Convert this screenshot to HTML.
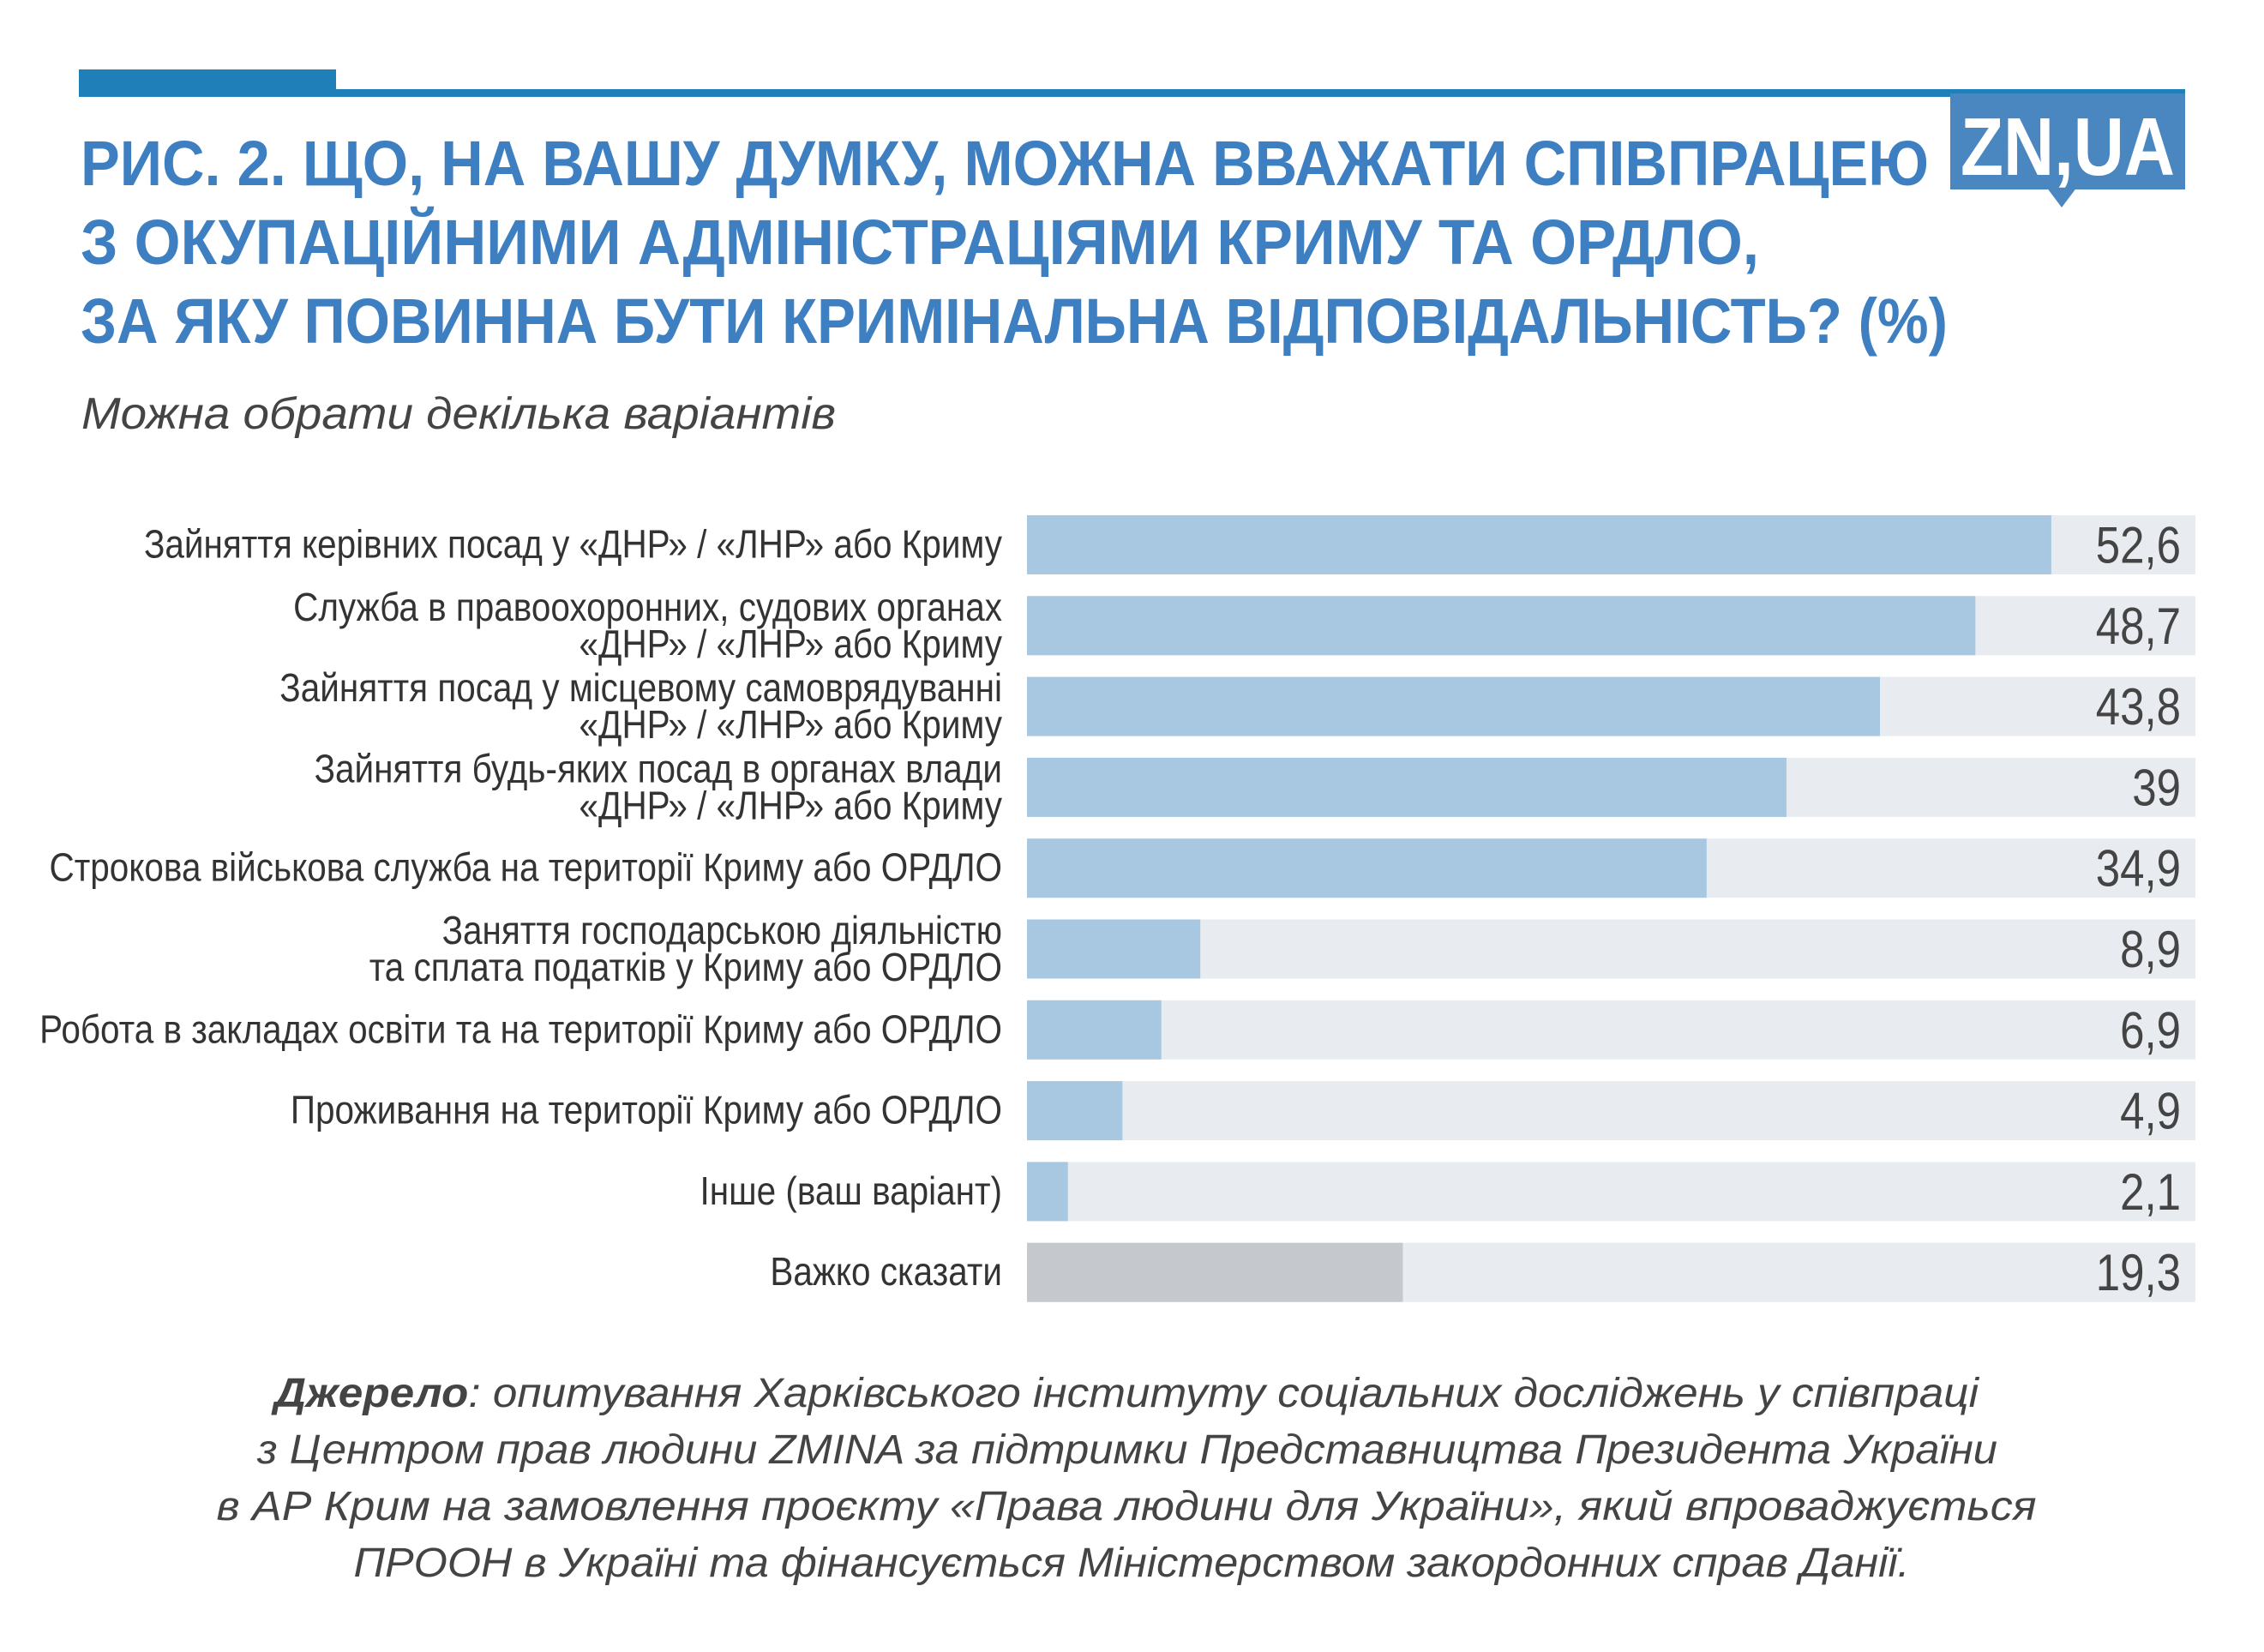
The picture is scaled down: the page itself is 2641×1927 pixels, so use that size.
<!DOCTYPE html>
<html><head><meta charset="utf-8">
<style>
html,body{margin:0;padding:0;background:#fff;}
svg{display:block;}
text{font-family:"Liberation Sans",sans-serif;}
</style></head>
<body>
<svg id="chart" width="2641" height="1927" viewBox="0 0 2641 1927" xmlns="http://www.w3.org/2000/svg">
  <rect x="92" y="81" width="300" height="32" fill="#1f7fb8"/>
  <rect x="92" y="104" width="2457" height="9" fill="#1f7fb8"/>
  <g>
    <rect x="2275" y="109" width="274" height="112" fill="#4a86c0"/>
    <polygon points="2387,218 2423,218 2405,242" fill="#4a86c0"/>
    <text x="2412" y="204" text-anchor="middle" font-size="96" font-weight="bold" fill="#fff" textLength="250" lengthAdjust="spacingAndGlyphs">ZN,UA</text>
  </g>
  <g fill="#3d7fc0" font-weight="bold" font-size="74">
    <text x="94" y="216" textLength="2156" lengthAdjust="spacingAndGlyphs">РИС. 2. ЩО, НА ВАШУ ДУМКУ,  МОЖНА ВВАЖАТИ СПІВПРАЦЕЮ</text>
    <text x="94" y="308" textLength="1958" lengthAdjust="spacingAndGlyphs">З ОКУПАЦІЙНИМИ АДМІНІСТРАЦІЯМИ КРИМУ ТА ОРДЛО,</text>
    <text x="94" y="400" textLength="2178" lengthAdjust="spacingAndGlyphs">ЗА ЯКУ ПОВИННА БУТИ КРИМІНАЛЬНА ВІДПОВІДАЛЬНІСТЬ? (%)</text>
  </g>
  <text x="95" y="500" font-size="52" font-style="italic" fill="#444" textLength="880" lengthAdjust="spacingAndGlyphs">Можна обрати декілька варіантів</text>
  <g id="bars"></g>
  <g font-size="48" font-style="italic" fill="#444" text-anchor="middle">
    <text x="1314" y="1641" textLength="1988" lengthAdjust="spacingAndGlyphs"><tspan font-weight="bold">Джерело</tspan>: опитування Харківського інституту соціальних досліджень у співпраці</text>
    <text x="1315" y="1707" textLength="2030" lengthAdjust="spacingAndGlyphs">з Центром прав людини ZMINA за підтримки Представництва Президента України</text>
    <text x="1314" y="1773" textLength="2123" lengthAdjust="spacingAndGlyphs">в АР Крим на замовлення проєкту «Права людини для України», який впроваджується</text>
    <text x="1320" y="1839" textLength="1815" lengthAdjust="spacingAndGlyphs">ПРООН в Україні та фінансується Міністерством закордонних справ Данії.</text>
  </g>
</svg>
<script>
const categories = [
  ["Зайняття керівних посад у «ДНР» / «ЛНР» або Криму"],
  ["Служба в правоохоронних, судових органах","«ДНР» / «ЛНР» або Криму"],
  ["Зайняття посад у місцевому самоврядуванні","«ДНР» / «ЛНР» або Криму"],
  ["Зайняття будь-яких посад в органах влади","«ДНР» / «ЛНР» або Криму"],
  ["Строкова військова служба на території Криму або ОРДЛО"],
  ["Заняття господарською діяльністю","та сплата податків у Криму або ОРДЛО"],
  ["Робота в закладах освіти та на території Криму або ОРДЛО"],
  ["Проживання на території Криму або ОРДЛО"],
  ["Інше (ваш варіант)"],
  ["Важко сказати"]
];
const values = [52.6, 48.7, 43.8, 39, 34.9, 8.9, 6.9, 4.9, 2.1, 19.3];
const valueLabels = ["52,6","48,7","43,8","39","34,9","8,9","6,9","4,9","2,1","19,3"];
const neutralFlags = [false,false,false,false,false,false,false,false,false,true];
const axisMax = 60;

const X0 = 1198, TRACK_W = 1363, Y0 = 601, PITCH = 94.3, BAR_H = 69, LABEL_END = 1169, VAL_END = 2544;
const xScale = v => TRACK_W * v / axisMax;
const yBand = i => Y0 + i * PITCH;
const NS = "http://www.w3.org/2000/svg";
const g = document.getElementById('bars');
function mk(tag, attrs){const e=document.createElementNS(NS,tag);for(const k in attrs)e.setAttribute(k,attrs[k]);return e;}

values.forEach((v,i)=>{
  const y = yBand(i);
  const track = mk('rect',{x:X0,y:y,width:TRACK_W,height:BAR_H,fill:'#e8ebf0'});
  
  
  g.appendChild(track);
  const bar = mk('rect',{x:X0,y:y,width:xScale(v),height:BAR_H,fill:neutralFlags[i]?'#c5c8cc':'#a8c8e1'});
  
  
  g.appendChild(bar);
  const vt = mk('text',{x:VAL_END,y:y+BAR_H/2+21,'text-anchor':'end','font-size':60,fill:'#444',transform:'translate('+VAL_END+' 0) scale(0.85 1) translate(-'+VAL_END+' 0)'});
  vt.textContent = valueLabels[i];
  
  
  g.appendChild(vt);
  const lines = categories[i];
  const cy = y + BAR_H/2;
  lines.forEach((ln,j)=>{
    const off = lines.length===1 ? 0 : (j===0 ? -21 : 22);
    const t = mk('text',{x:LABEL_END,y:cy+off+15,'text-anchor':'end','font-size':46,fill:'#333',transform:'translate('+LABEL_END+' 0) scale(0.88 1) translate(-'+LABEL_END+' 0)'});
    t.textContent = ln;
    
    
    g.appendChild(t);
  });
});
</script>
</body></html>
